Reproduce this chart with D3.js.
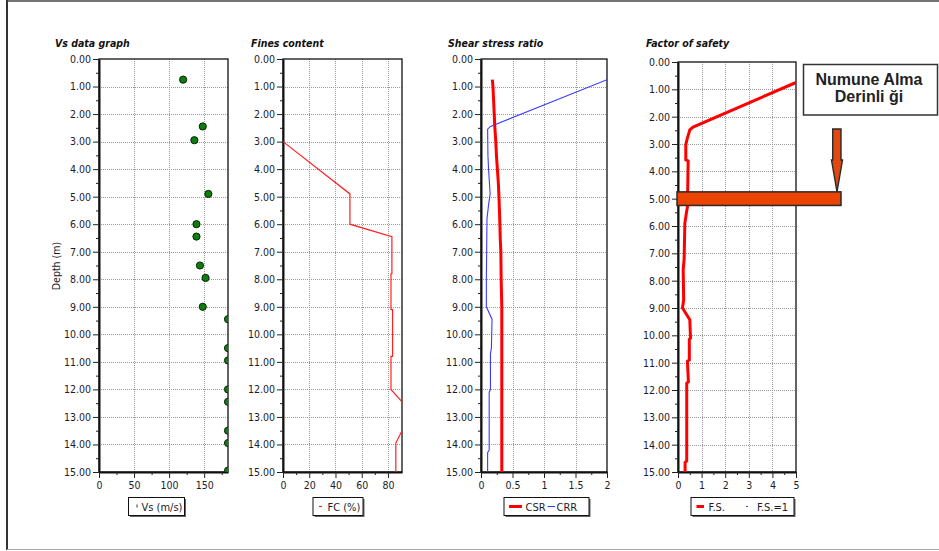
<!DOCTYPE html>
<html>
<head>
<meta charset="utf-8">
<script src="https://cdn.jsdelivr.net/npm/d3@7"></script>
<style>
  body { margin: 0; background: #fff; }
  svg text { font-family: "DejaVu Sans Condensed", "DejaVu Sans", sans-serif; }
</style>
</head>
<body>
<svg id="chart" width="939" height="551"></svg>
<script>
// ---- data ----
const depthTicks = d3.range(0, 16);              // 0.00 ... 15.00 m
const depthMinor = d3.range(0.5, 15, 1);

// shear-wave velocity samples
const vsDepth = [0.75, 2.45, 2.95, 4.9, 6.0, 6.45, 7.5, 7.95, 9.0, 9.45, 10.5, 10.95, 12.0, 12.45, 13.5, 13.95, 14.95];
const vsValue = [120, 148, 136, 156, 139, 139, 144, 152, 148, 184, 184, 184, 184, 184, 184, 184, 184];
const vsTicks = [0, 50, 100, 150];

// fines content profile
const fcDepth = [3.0, 4.9, 6.0, 6.45, 7.8, 7.8, 9.1, 9.1, 10.8, 10.8, 12.0, 12.45, 13.5, 13.95, 15.0];
const fcValue = [0, 51, 51, 83, 83, 82.3, 82.3, 83.5, 83.5, 82.3, 82.3, 90.7, 90.7, 86, 86];
const fcTicks = [0, 20, 40, 60, 80];

// cyclic stress ratio / cyclic resistance ratio
const csrDepth = [0.75, 1.0, 1.5, 2.0, 2.5, 3.0, 3.5, 4.0, 4.5, 5.0, 6.0, 6.5, 7.0, 8.0, 9.0, 15.0];
const csrValue = [0.18, 0.19, 0.2, 0.21, 0.22, 0.235, 0.245, 0.26, 0.275, 0.285, 0.3, 0.305, 0.315, 0.32, 0.33, 0.33];
const crrDepth = [0.75, 2.45, 2.55, 3.5, 4.0, 4.9, 5.3, 5.8, 8.0, 9.0, 9.45, 10.5, 10.7, 12.0, 12.1, 14.2, 14.3, 15.0];
const crrValue = [2.0, 0.15, 0.105, 0.11, 0.12, 0.145, 0.12, 0.095, 0.085, 0.085, 0.175, 0.165, 0.15, 0.15, 0.13, 0.13, 0.105, 0.105];
const ssrTicks = [0, 0.5, 1, 1.5, 2];

// factor of safety
const fsDepth = [0.75, 2.38, 2.48, 2.84, 3.03, 3.58, 3.62, 5.3, 5.5, 5.9, 7.2, 7.6, 8.7, 9.0, 9.43, 10.1, 10.15, 10.9, 10.95, 11.7, 11.75, 14.6, 14.65, 15.0];
const fsValue = [5.0, 0.64, 0.5, 0.38, 0.33, 0.33, 0.43, 0.40, 0.36, 0.29, 0.26, 0.22, 0.24, 0.19, 0.5, 0.53, 0.48, 0.48, 0.40, 0.44, 0.37, 0.37, 0.30, 0.30];
const fsTicks = [0, 1, 2, 3, 4, 5];

const sampleDepth = 5.0;
const sampleLabel = ["Numune Alma", "Derinli ği"];

// ---- drawing ----
const svg = d3.select("#chart");
const TXT = "#1b1b2a";

// outer frame
svg.append("line").attr("x1", 7).attr("x2", 7).attr("y1", 0).attr("y2", 550)
  .attr("stroke", "#333").attr("stroke-width", 2);
svg.append("line").attr("x1", 7).attr("x2", 939).attr("y1", 1).attr("y2", 1)
  .attr("stroke", "#444").attr("stroke-width", 1.5);
svg.append("line").attr("x1", 7).attr("x2", 939).attr("y1", 549.5).attr("y2", 549.5)
  .attr("stroke", "#aaa").attr("stroke-width", 1);

function makePanel(cfg) {
  const x = d3.scaleLinear().domain(cfg.domain).range([cfg.x0, cfg.x1]);
  const y = d3.scaleLinear().domain([0, 15]).range([cfg.y0, cfg.y1]);
  const g = svg.append("g");

  // grid
  g.append("g").selectAll("line").data(depthTicks.slice(1, -1)).join("line")
    .attr("x1", cfg.x0).attr("x2", cfg.x1)
    .attr("y1", d => Math.round(y(d)) + 0.5).attr("y2", d => Math.round(y(d)) + 0.5)
    .attr("stroke", "#9a9a9a").attr("stroke-dasharray", "1,1");
  g.append("g").selectAll("line").data(cfg.ticks.filter(t => t > cfg.domain[0] && t < cfg.domain[1] - 1e-9)).join("line")
    .attr("y1", cfg.y0).attr("y2", cfg.y1)
    .attr("x1", d => Math.round(x(d)) + 0.5).attr("x2", d => Math.round(x(d)) + 0.5)
    .attr("stroke", "#9a9a9a").attr("stroke-dasharray", "1,1");

  // plot frame (top/right)
  g.append("rect").attr("x", cfg.x0).attr("y", cfg.y0)
    .attr("width", cfg.x1 - cfg.x0).attr("height", cfg.y1 - cfg.y0)
    .attr("fill", "none").attr("stroke", "#111").attr("stroke-width", 1.3);

  // depth axis
  const yAx = g.append("g").attr("transform", `translate(${cfg.x0},0)`)
    .call(d3.axisLeft(y).tickValues(depthTicks).tickFormat(d3.format(".2f"))
      .tickSize(6).tickSizeOuter(0).tickPadding(2));
  g.append("g").attr("transform", `translate(${cfg.x0},0)`)
    .call(d3.axisLeft(y).tickValues(depthMinor).tickFormat("").tickSize(3).tickSizeOuter(0))
    .select(".domain").remove();

  // value axis
  const xAx = g.append("g").attr("transform", `translate(0,${cfg.y1})`)
    .call(d3.axisBottom(x).tickValues(cfg.ticks).tickFormat(d3.format("")).tickSize(6).tickSizeOuter(0).tickPadding(4));
  g.append("g").attr("transform", `translate(0,${cfg.y1})`)
    .call(d3.axisBottom(x).tickValues(cfg.minor).tickFormat("").tickSize(3).tickSizeOuter(0))
    .select(".domain").remove();

  g.selectAll(".domain").attr("stroke", "#111").attr("stroke-width", 2);
  g.selectAll(".tick line").attr("stroke", "#222");
  g.selectAll(".tick text").attr("fill", TXT).attr("font-size", 10.5)
    .style("font-family", '"DejaVu Sans Condensed","DejaVu Sans",sans-serif');

  // title
  g.append("text").attr("x", cfg.titleX).attr("y", 47)
    .attr("font-size", 10.5).attr("font-weight", "bold").attr("font-style", "italic")
    .attr("fill", "#111").text(cfg.title);

  // clip for data marks
  const id = "clip" + cfg.key;
  svg.append("clipPath").attr("id", id).append("rect")
    .attr("x", cfg.x0).attr("y", cfg.y0).attr("width", cfg.x1 - cfg.x0).attr("height", cfg.y1 - cfg.y0);
  const plot = svg.append("g").attr("clip-path", `url(#${id})`);
  return { x, y, plot, g };
}

function legend(x0, w, items) {
  const y0 = 497.5, h = 18;
  const lg = svg.append("g");
  lg.append("rect").attr("x", x0 + 1.5).attr("y", y0 + 1.5).attr("width", w).attr("height", h).attr("fill", "#666");
  lg.append("rect").attr("x", x0).attr("y", y0).attr("width", w).attr("height", h)
    .attr("fill", "#fff").attr("stroke", "#111").attr("stroke-width", 1);
  items.forEach(it => {
    if (it.mark) {
      lg.append("line").attr("x1", x0 + it.m0).attr("x2", x0 + it.m1)
        .attr("y1", y0 + h / 2 + (it.dy || 0)).attr("y2", y0 + h / 2 + (it.dy2 || 0))
        .attr("stroke", it.mark).attr("stroke-width", it.sw);
    }
    lg.append("text").attr("x", x0 + it.t).attr("y", y0 + 13)
      .attr("font-size", 11).attr("fill", TXT).text(it.label);
  });
}

// --- Vs panel ---
const pVs = makePanel({ key: "vs", x0: 99, x1: 228, y0: 59, y1: 472, domain: [0, 184],
  ticks: vsTicks, minor: [25, 75, 125, 175], title: "Vs data graph", titleX: 55 });
pVs.plot.selectAll("circle").data(vsDepth.map((d, i) => [vsValue[i], d])).join("circle")
  .attr("cx", d => pVs.x(d[0])).attr("cy", d => pVs.y(d[1])).attr("r", 3.6)
  .attr("fill", "#0b7f0b").attr("stroke", "#102010").attr("stroke-width", 1);
svg.append("text").attr("transform", "translate(60,266) rotate(-90)")
  .attr("text-anchor", "middle").attr("font-size", 10.5).attr("fill", TXT).text("Depth (m)");
legend(128.5, 56, [{ mark: "#333", m0: 8.5, m1: 8.5, dy: -2, dy2: 1, sw: 1, t: 13, label: "Vs (m/s)" }]);

// --- Fines content panel ---
const pFc = makePanel({ key: "fc", x0: 283, x1: 402, y0: 59, y1: 472, domain: [0, 90.7],
  ticks: fcTicks, minor: [10, 30, 50, 70], title: "Fines content", titleX: 251 });
pFc.plot.append("path").datum(fcDepth.map((d, i) => [fcValue[i], d]))
  .attr("d", d3.line().x(d => pFc.x(d[0])).y(d => pFc.y(d[1])))
  .attr("fill", "none").attr("stroke", "#ff2020").attr("stroke-width", 1.2);
legend(313, 50, [{ mark: "#ff2020", m0: 6, m1: 9, sw: 1.2, t: 14.5, label: "FC (%)" }]);

// --- Shear stress ratio panel ---
const pSs = makePanel({ key: "ss", x0: 481, x1: 607, y0: 59, y1: 472, domain: [0, 2],
  ticks: ssrTicks, minor: [0.25, 0.75, 1.25, 1.75], title: "Shear stress ratio", titleX: 448 });
const ssLine = d3.line().x(d => pSs.x(d[0])).y(d => pSs.y(d[1]));
pSs.plot.append("path").datum(crrDepth.map((d, i) => [crrValue[i], d]))
  .attr("d", ssLine).attr("fill", "none").attr("stroke", "#3a3aff").attr("stroke-width", 1.1);
pSs.plot.append("path").datum(csrDepth.map((d, i) => [csrValue[i], d]))
  .attr("d", ssLine).attr("fill", "none").attr("stroke", "#ff0000").attr("stroke-width", 3);
legend(504, 85, [
  { mark: "#ff0000", m0: 5, m1: 18, sw: 3, t: 21.5, label: "CSR" },
  { mark: "#3a3aff", m0: 43.5, m1: 51, sw: 1.1, t: 52.5, label: "CRR" }
]);

// --- Factor of safety panel ---
const pFs = makePanel({ key: "fs", x0: 678, x1: 796, y0: 62, y1: 472, domain: [0, 5],
  ticks: fsTicks, minor: [0.5, 1.5, 2.5, 3.5, 4.5], title: "Factor of safety", titleX: 646 });
pFs.plot.append("path").datum(fsDepth.map((d, i) => [fsValue[i], d]))
  .attr("d", d3.line().x(d => pFs.x(d[0])).y(d => pFs.y(d[1])))
  .attr("fill", "none").attr("stroke", "#ff0000").attr("stroke-width", 3);
legend(691, 103, [
  { mark: "#ff0000", m0: 5.5, m1: 13, sw: 3, t: 17.5, label: "F.S." },
  { mark: "#3a3aff", m0: 55, m1: 57, sw: 1.1, t: 66, label: "F.S.=1" }
]);

// --- sampling depth marker ---
const ys = pFs.y(sampleDepth);
const ann = svg.append("g");
ann.append("rect").attr("x", 677).attr("y", ys - 6.8).attr("width", 164).attr("height", 13.6)
  .attr("fill", "#ea4400").attr("stroke", "#2a2a2a").attr("stroke-width", 1.5);
ann.append("path")
  .attr("d", d3.line()([[832.7, 129], [841, 129], [841, 160], [842.5, 160], [837, ys - 6.8],
                        [831.5, 160], [832.7, 160]]) + "Z")
  .attr("fill", "#e04812").attr("stroke", "#2a2a2a").attr("stroke-width", 1.4);
ann.append("rect").attr("x", 803.5).attr("y", 64.5).attr("width", 134).attr("height", 50.5)
  .attr("fill", "#fff").attr("stroke", "#333").attr("stroke-width", 1.5);
ann.selectAll("text.lbl").data(sampleLabel).join("text").attr("class", "lbl")
  .attr("x", 869).attr("y", (d, i) => 84.5 + i * 17.5).attr("text-anchor", "middle")
  .attr("font-size", 16).attr("font-weight", "bold").attr("fill", "#222")
  .style("font-family", '"Liberation Sans", Arial, sans-serif')
  .text(d => d);
</script>
</body>
</html>
